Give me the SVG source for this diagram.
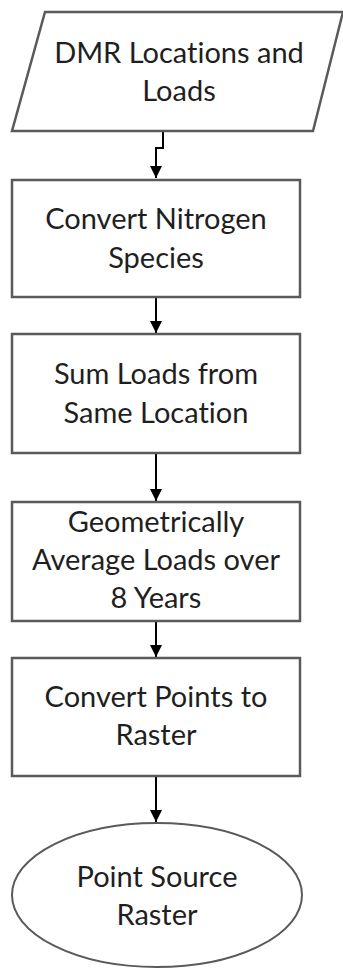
<svg xmlns="http://www.w3.org/2000/svg" width="343" height="968" viewBox="0 0 343 968">
<style>
.n{fill:#fff;stroke:#5a5a5a;stroke-width:2.5}
.t{font-family:Lato,"Open Sans","Liberation Sans",sans-serif;font-size:29px;fill:#1f1f1f;text-anchor:middle;font-variant-ligatures:none}
.c{fill:none;stroke:#000;stroke-width:2}
</style>
<defs>
<marker id="ah" markerWidth="12" markerHeight="12" viewBox="0 0 12 12" refX="12" refY="6" orient="auto" markerUnits="userSpaceOnUse">
<path d="M0,0 L12,6 L0,12 z" fill="#000"/>
</marker>
</defs>
<rect width="343" height="968" fill="#fff"/>
<g id="connectors">
<path class="c" d="M163,132 V148 H156 V178" marker-end="url(#ah)"/>
<path class="c" d="M156,298 V333" marker-end="url(#ah)"/>
<path class="c" d="M156,454 V501" marker-end="url(#ah)"/>
<path class="c" d="M156,622 V657" marker-end="url(#ah)"/>
<path class="c" d="M156,777 V822" marker-end="url(#ah)"/>
</g>
<g id="n1">
<polygon class="n" points="45,12 343,12 313,131 12,131"/>
<text class="t" x="179" y="63">DMR Locations and</text>
<text class="t" x="179" y="101">Loads</text>
</g>
<g id="n2">
<rect class="n" x="12" y="180" width="288" height="117"/>
<text class="t" x="156" y="229">Convert Nitrogen</text>
<text class="t" x="156" y="268">Species</text>
</g>
<g id="n3">
<rect class="n" x="12" y="334" width="288" height="119"/>
<text class="t" x="156" y="384">Sum Loads from</text>
<text class="t" x="156" y="423">Same Location</text>
</g>
<g id="n4">
<rect class="n" x="12" y="502" width="288" height="119"/>
<text class="t" x="156" y="532">Geometrically</text>
<text class="t" x="156" y="570">Average Loads over</text>
<text class="t" x="156" y="608">8 Years</text>
</g>
<g id="n5">
<rect class="n" x="12" y="658" width="288" height="118"/>
<text class="t" x="156" y="707">Convert Points to</text>
<text class="t" x="156" y="745">Raster</text>
</g>
<g id="n6">
<ellipse class="n" cx="157" cy="895" rx="145" ry="72" style="stroke-width:2"/>
<text class="t" x="157" y="887">Point Source</text>
<text class="t" x="157" y="925">Raster</text>
</g>
</svg>
